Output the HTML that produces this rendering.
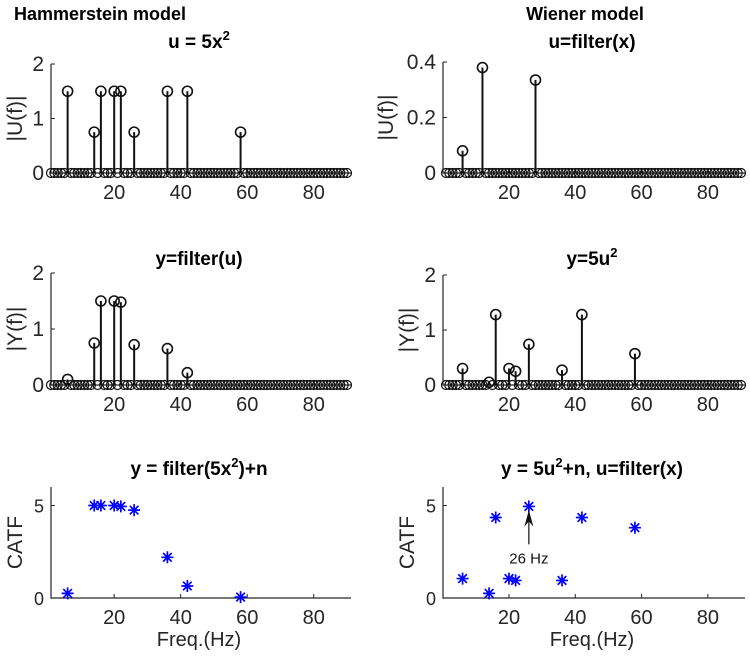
<!DOCTYPE html>
<html><head><meta charset="utf-8"><style>
body{margin:0;background:#fff;}
svg{display:block;font-family:"Liberation Sans",Arial,sans-serif;}
</style></head><body>
<svg id="fig" width="750" height="665" viewBox="0 0 750 665">
<text x="100" y="20" text-anchor="middle" font-size="18" font-weight="bold">Hammerstein model</text>
<text x="585" y="20" text-anchor="middle" font-size="18" font-weight="bold">Wiener model</text>
</svg>
<script>
const freqs = [6,14,16,20,22,26,36,42,58];
const freqsYH = [6,14,16,20,22,26,36,42];
const uHamm = [1.5,0.75,1.5,1.5,1.5,0.75,1.5,1.5,0.75];
const yHamm = [0.1,0.75,1.5,1.5,1.48,0.72,0.65,0.22];
const freqsUW = [6,12,28];
const uWien = [0.08,0.38,0.335];
const yWien = [0.3,0.05,1.28,0.3,0.25,0.74,0.27,1.28,0.57];
const catfHamm = [0.25,5,5,5,4.95,4.75,2.2,0.65,0.05];
const catfWien = [1.05,0.25,4.35,1.05,0.95,4.95,0.95,4.35,3.8];
const xTicks = [20,40,60,80];

const NS='http://www.w3.org/2000/svg';
const svg=document.getElementById('fig');
function mk(tag,attrs,parent){const e=document.createElementNS(NS,tag);for(const k in attrs)e.setAttribute(k,attrs[k]);(parent||svg).appendChild(e);return e;}

function panel(o){
  const g=mk('g',{});
  
  
  const sx=v=>o.x0+(v-1)*(o.x1-o.x0)/89;
  const sy=v=>o.yb-(v-o.ymin)*(o.yb-o.yt)/(o.ymax-o.ymin);
  const t=mk('text',{x:(o.ax+o.x1)/2,y:o.ty,'text-anchor':'middle','font-size':19,'font-weight':'bold'},g);
  t.innerHTML=o.title;
  
  
  const ax=mk('path',{d:`M${o.ax},${o.yt}V${o.yb}H${o.x1+4}`,stroke:'#262626','stroke-width':1.2,fill:'none'},g);
  
  
  o.yTicks.forEach((v,i)=>{
    mk('line',{x1:o.ax,x2:o.ax+4,y1:sy(v),y2:sy(v),stroke:'#262626'},g);
    const tl=mk('text',{x:o.ax-7,y:sy(v)+7,'text-anchor':'end','font-size':o.fs,fill:'#262626'},g);
    tl.textContent=o.yLabels[i];
    
    
  });
  xTicks.forEach(v=>{
    mk('line',{x1:sx(v),x2:sx(v),y1:o.yb,y2:o.yb-4,stroke:'#262626'},g);
    const tl=mk('text',{x:sx(v),y:o.yb+26,'text-anchor':'middle','font-size':20,fill:'#262626'},g);
    tl.textContent=v;
    
    
  });
  const yl=mk('text',{x:0,y:0,'text-anchor':'middle','font-size':21,fill:'#262626',transform:`translate(${o.ax-o.ylo},${(o.yt+o.yb)/2}) rotate(-90)`},g);
  yl.textContent=o.ylabel;
  
  
  if(o.xlabel){
    const xl=mk('text',{x:(o.ax+o.x1)/2,y:o.yb+48,'text-anchor':'middle','font-size':20,fill:'#262626'},g);
    xl.textContent=o.xlabel;
    
    
  }
  if(o.stem){
    const map={};o.fx.forEach((f,i)=>map[f]=o.vals[i]);
    for(let f=1;f<=90;f++){
      if(map[f]!==undefined)continue;
      const c=mk('circle',{cx:sx(f),cy:sy(0),r:4.5,fill:'none',stroke:'#111','stroke-width':1.2},g);
      
      
    }
    o.fx.forEach((f,i)=>{
      const v=o.vals[i];
      const l=mk('line',{x1:sx(f),x2:sx(f),y1:sy(0),y2:sy(v),stroke:'#111','stroke-width':2},g);
      
      
      const c=mk('circle',{cx:sx(f),cy:sy(v),r:5,fill:'none',stroke:'#111','stroke-width':1.6},g);
      
      
    });
  } else {
    o.fx.forEach((f,i)=>{
      const cx=sx(f),cy=sy(o.vals[i]),r=6;
      const s=mk('path',{d:`M${cx-r},${cy}H${cx+r}M${cx},${cy-r}V${cy+r}M${cx-4.3},${cy-4.3}L${cx+4.3},${cy+4.3}M${cx-4.3},${cy+4.3}L${cx+4.3},${cy-4.3}`,stroke:'#0000ff','stroke-width':1.7},g);
      
      
    });
  }
  return {sx,sy,g};
}

panel({name:'hammerstein-u-spectrum',ax:51,x0:51,x1:347,yt:64,yb:173,ymin:0,ymax:2,yTicks:[0,1,2],yLabels:['0','1','2'],fs:21,ty:48,ylo:29,title:'u = 5x<tspan font-size="13" dy="-8">2</tspan>',ylabel:'|U(f)|',stem:true,fx:freqs,vals:uHamm});
panel({name:'wiener-u-spectrum',ax:443,x0:446,x1:741,yt:62,yb:173,ymin:0,ymax:0.4,yTicks:[0,0.2,0.4],yLabels:['0','0.2','0.4'],fs:21,ty:48,ylo:50,title:'u=filter(x)',ylabel:'|U(f)|',stem:true,fx:freqsUW,vals:uWien});
panel({name:'hammerstein-y-spectrum',ax:51,x0:51,x1:347,yt:273,yb:385,ymin:0,ymax:2,yTicks:[0,1,2],yLabels:['0','1','2'],fs:21,ty:265,ylo:29,title:'y=filter(u)',ylabel:'|Y(f)|',stem:true,fx:freqsYH,vals:yHamm});
panel({name:'wiener-y-spectrum',ax:443,x0:446,x1:741,yt:275,yb:385,ymin:0,ymax:2,yTicks:[0,1,2],yLabels:['0','1','2'],fs:21,ty:265,ylo:29,title:'y=5u<tspan font-size="13" dy="-8">2</tspan>',ylabel:'|Y(f)|',stem:true,fx:freqs,vals:yWien});
panel({name:'hammerstein-catf',ax:51,x0:51,x1:347,yt:487,yb:598,ymin:0,ymax:6,yTicks:[0,5],yLabels:['0','5'],fs:18,ty:475,ylo:29,title:'y = filter(5x<tspan font-size="13" dy="-8">2</tspan><tspan dy="8">)+n</tspan>',ylabel:'CATF',xlabel:'Freq.(Hz)',stem:false,fx:freqs,vals:catfHamm});
const pr=panel({name:'wiener-catf',ax:443,x0:446,x1:741,yt:487,yb:598,ymin:0,ymax:6,yTicks:[0,5],yLabels:['0','5'],fs:18,ty:475,ylo:29,title:'y = 5u<tspan font-size="13" dy="-8">2</tspan><tspan dy="8">+n, u=filter(x)</tspan>',ylabel:'CATF',xlabel:'Freq.(Hz)',stem:false,fx:freqs,vals:catfWien});
const axx=pr.sx(26);
const arr=mk('path',{d:`M${axx},${pr.sy(2.9)}V${pr.sy(4.2)}`,stroke:'#111','stroke-width':1.2},pr.g);


const head=mk('path',{d:`M${axx},${pr.sy(4.75)}L${axx-4.5},${pr.sy(3.85)}L${axx},${pr.sy(4.15)}L${axx+4.5},${pr.sy(3.85)}Z`,fill:'#111'},pr.g);


const at=mk('text',{x:axx,y:pr.sy(2.9)+19,'text-anchor':'middle','font-size':15,fill:'#111'},pr.g);
at.textContent='26 Hz';


</script>
</body></html>
